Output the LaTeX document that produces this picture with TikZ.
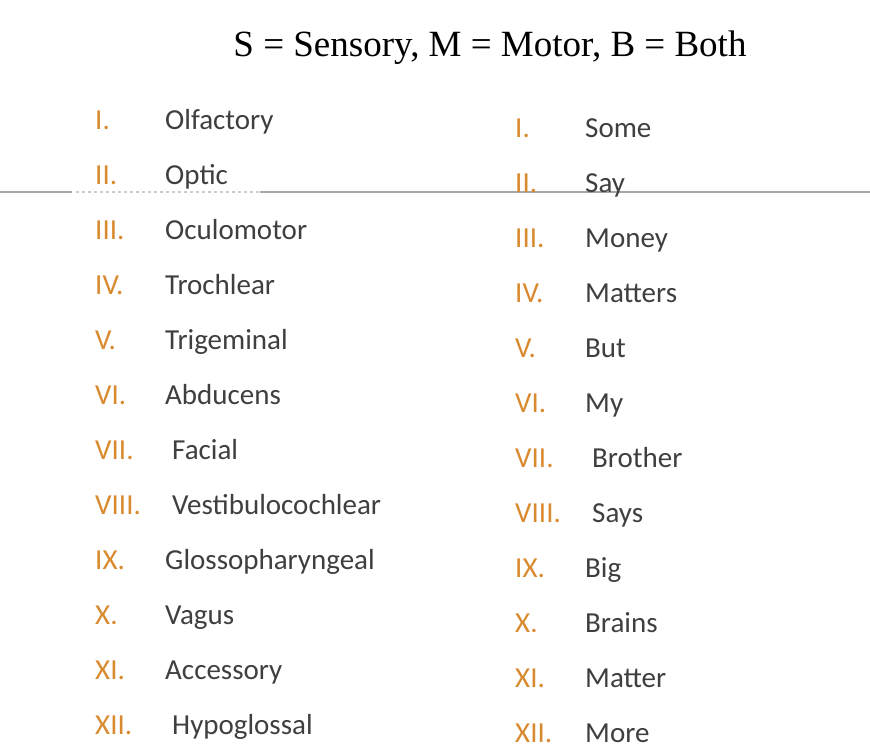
\documentclass[tikz,border=0pt]{standalone}
\usepackage{fontspec}
\setmainfont{Carlito}
\newfontfamily\titlefont{Liberation Serif}
\definecolor{org}{HTML}{D98A2E}
\definecolor{txt}{HTML}{3F3F3F}
\begin{document}
\begin{tikzpicture}[x=1pt,y=-1pt,
  rn/.style={anchor=base west,text=org,font=\fontsize{29}{32}\selectfont,inner sep=0},
  wd/.style={anchor=base west,text=txt,font=\fontsize{29}{32}\selectfont,inner sep=0},
  rule/.style={draw=black!35,line width=1.2pt}]
\useasboundingbox[fill=white] (0,0) rectangle (870,752);
\node[font=\titlefont\fontsize{37}{40}\selectfont,text=black,inner sep=0] (title) at (490,48) {S = Sensory, M = Motor, B = Both};
\coordinate (l0) at (0,192); \coordinate (l1) at (72,192);
\coordinate (l2) at (76,192); \coordinate (l3) at (260,192);
\coordinate (l4) at (870,192);
\draw[rule] (l0) -- (l1);
\draw[rule,dashed,draw=black!20] (l2) -- (l3);
\draw[rule] (l3) -- (l4);
\foreach \r/\w/\dx [count=\i] in {I./Olfactory/0,II./Optic/0,III./Oculomotor/0,IV./Trochlear/0,V./Trigeminal/0,VI./Abducens/0,VII./Facial/7,VIII./Vestibulocochlear/7,IX./Glossopharyngeal/0,X./Vagus/0,XI./Accessory/0,XII./Hypoglossal/7}{
  \node[rn] (lr\i) at (95,{74+55*\i}) {\r};
  \node[wd] (lw\i) at ({165+\dx},{74+55*\i}) {\w};
}
\foreach \r/\w/\dx [count=\i] in {I./Some/0,II./Say/0,III./Money/0,IV./Matters/0,V./But/0,VI./My/0,VII./Brother/7,VIII./Says/7,IX./Big/0,X./Brains/0,XI./Matter/0,XII./More/0}{
  \node[rn] (rr\i) at (515,{82+55*\i}) {\r};
  \node[wd] (rw\i) at ({585+\dx},{82+55*\i}) {\w};
}
\end{tikzpicture}
\end{document}
